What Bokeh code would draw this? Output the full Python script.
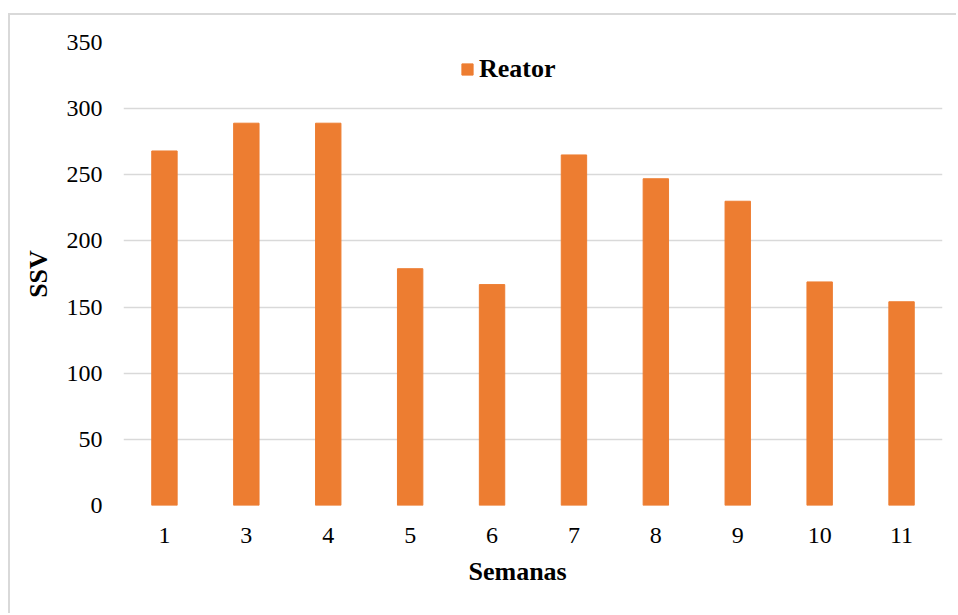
from bokeh.plotting import figure
from bokeh.models import ColumnDataSource, FactorRange, Range1d, Legend, LegendItem, SingleIntervalTicker, Title
from bokeh.embed import file_html
from bokeh.resources import INLINE

weeks = ["1", "3", "4", "5", "6", "7", "8", "9", "10", "11"]
ssv = [268, 289, 289, 179, 167, 265, 247, 230, 169, 154]
series_name = "Reator"
x_title = "Semanas"
y_title = "SSV"

FONT = "'Liberation Serif', 'Times New Roman', serif"
ORANGE = "#ED7D31"
GRID = "#d9d9d9"

src = ColumnDataSource(dict(week=weeks, ssv=ssv))

p = figure(x_range=FactorRange(*weeks, range_padding=0), y_range=Range1d(0, 350),
           width=948, height=600, output_backend="svg", toolbar_location=None,
           min_border_left=113, min_border_right=16, min_border_top=27, min_border_bottom=110)
p.outline_line_color = None

r = p.vbar(x="week", top="ssv", width=0.31, source=src, fill_color=ORANGE,
           line_color=ORANGE)

p.xgrid.grid_line_color = None
p.ygrid.grid_line_color = GRID
p.ygrid.grid_line_width = 1.5
p.yaxis.ticker = SingleIntervalTicker(interval=50)

for ax in (p.xaxis[0], p.yaxis[0]):
    ax.axis_line_color = None
    ax.major_tick_line_color = None
    ax.minor_tick_line_color = None
    ax.major_label_text_font = FONT
    ax.major_label_text_font_size = "24px"
    ax.major_label_text_color = "#000000"
    ax.axis_label_text_font = FONT
    ax.axis_label_text_font_size = "26px"
    ax.axis_label_text_font_style = "bold"
    ax.axis_label_text_color = "#000000"

p.yaxis.axis_label = y_title
p.xaxis.major_label_standoff = 16
p.yaxis.major_label_standoff = 15
p.yaxis.axis_label_standoff = 11

xt = Title(text=x_title, align="left", offset=345, standoff=19,
           text_font=FONT, text_font_size="26px", text_font_style="bold",
           text_color="#000000")
p.add_layout(xt, "below")

legend = Legend(items=[LegendItem(label=series_name, renderers=[r])],
                location=(337, 421), orientation="horizontal",
                label_text_font=FONT, label_text_font_size="26px",
                label_text_font_style="bold", label_text_color="#000000",
                glyph_width=14, glyph_height=14, label_standoff=5,
                padding=0, margin=0, border_line_color=None,
                background_fill_alpha=0)
p.add_layout(legend)

p.styles = {"border-left": "2px solid #d9d9d9", "border-top": "2px solid #d9d9d9",
            "margin-left": "8px", "margin-top": "13px"}

open("out.html", "w").write(file_html(p, INLINE))
